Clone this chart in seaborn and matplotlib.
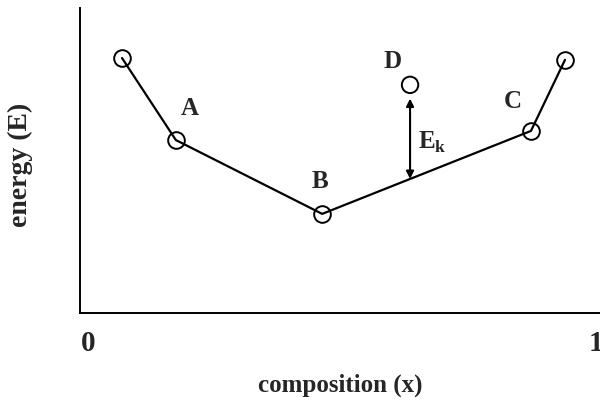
import matplotlib
matplotlib.use("Agg")
import matplotlib.pyplot as plt
import seaborn as sns
import pandas as pd

# data
hull_x = [0.067, 0.173, 0.461, 0.872, 0.939]
hull_e = [0.836, 0.567, 0.325, 0.597, 0.830]
point_d_x = [0.634]
point_d_e = [0.748]
labels = ["A", "B", "C", "D"]
label_x = [0.201, 0.457, 0.837, 0.600]
label_e = [0.672, 0.430, 0.692, 0.823]
tick_vals = [0, 1]
tick_labels = ["0", "1"]

sns.set_style("white")
plt.rcParams["font.family"] = ["Liberation Serif", "DejaVu Serif"]
plt.rcParams["mathtext.fontset"] = "custom"
plt.rcParams["mathtext.rm"] = "Liberation Serif:bold"

fig = plt.figure(figsize=(6, 4.13), dpi=100)
ax = fig.add_axes([80/600, 100/413, 520/600, 305/413])

df = pd.DataFrame({"x": hull_x, "e": hull_e})
sns.lineplot(data=df, x="x", y="e", ax=ax, color="black", lw=1.6, sort=False,
             marker="o", markersize=12, markerfacecolor="none",
             markeredgecolor="black", markeredgewidth=1.4)
dfd = pd.DataFrame({"x": point_d_x, "e": point_d_e})
sns.scatterplot(data=dfd, x="x", y="e", ax=ax, s=140, facecolor="none",
                edgecolor="black", linewidth=1.4, zorder=5)

fs = 18
for t, lx, le in zip(labels, label_x, label_e):
    ax.text(lx, le, t, fontsize=fs, fontweight="bold", ha="center", va="center")

# E_k arrow between D and hull line
bx, be = hull_x[2], hull_e[2]
cx, ce = hull_x[3], hull_e[3]
x0 = point_d_x[0]
e_line = be + (ce - be) * (x0 - bx) / (cx - bx)
ax.annotate("", xy=(x0, point_d_e[0] - 0.045), xytext=(x0, e_line),
            arrowprops=dict(arrowstyle="<|-|>", color="black", lw=1.5,
                            mutation_scale=11, shrinkA=0, shrinkB=0))
ax.text(x0 + 0.016, 0.56, r"E$_{\mathrm{k}}$", fontsize=fs, fontweight="bold",
        ha="left", va="center")

ax.set_xlim(-0.0157, 1.0079)
ax.set_ylim(0, 1)
ax.set_xticks(tick_vals)
ax.set_xticklabels(tick_labels, fontsize=21, fontweight="bold")
ax.set_yticks([])
ax.tick_params(axis="x", length=0, pad=12)
ax.set_xlabel("composition (x)", fontsize=fs, fontweight="bold", labelpad=12)
ax.set_ylabel("")
fig.text(20/600, 1 - 165/413, "energy (E)", fontsize=20, fontweight="bold",
         rotation=90, ha="center", va="center")
for s in ["top", "right"]:
    ax.spines[s].set_visible(False)
for s in ["left", "bottom"]:
    ax.spines[s].set_color("black")
    ax.spines[s].set_linewidth(1.4)

fig.savefig("out.png", dpi=100)
